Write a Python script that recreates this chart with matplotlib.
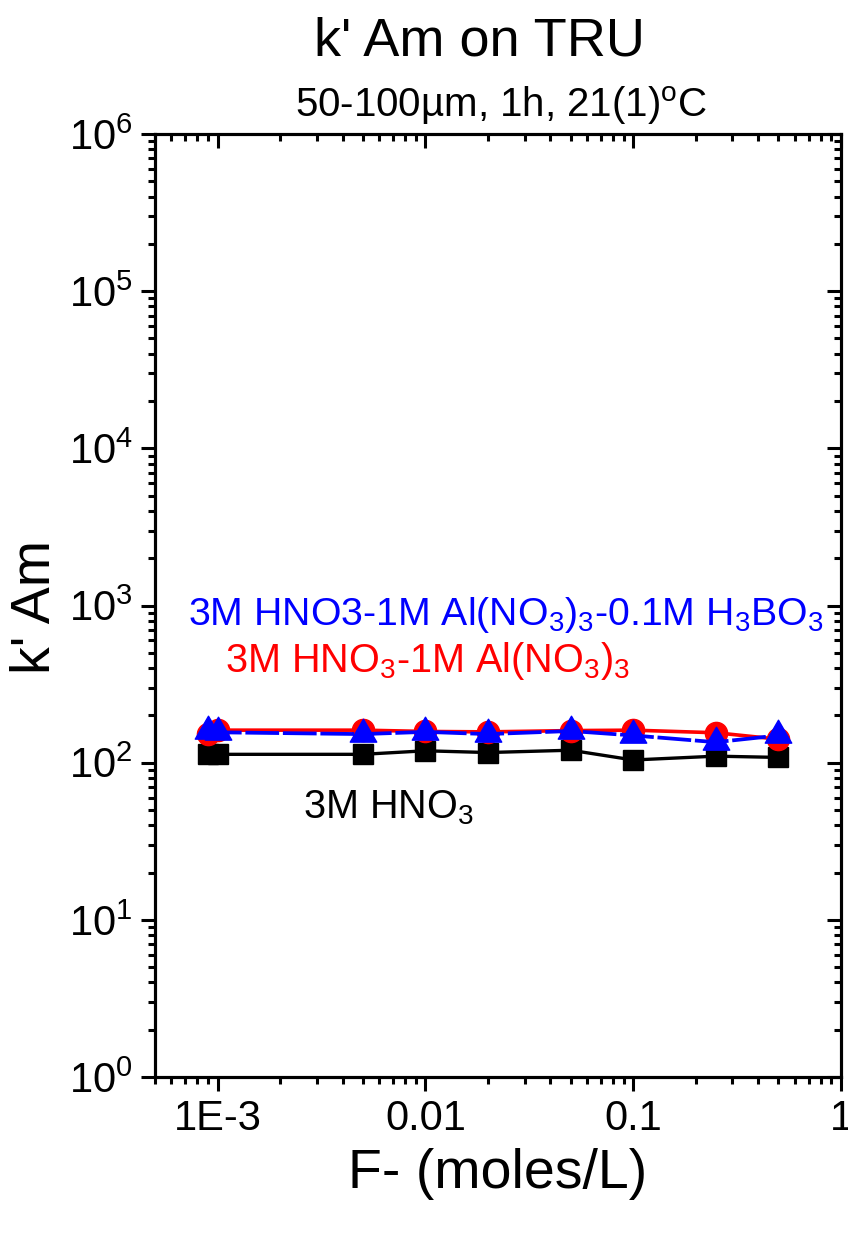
import matplotlib
matplotlib.use('Agg')
import matplotlib.pyplot as plt
from matplotlib.path import Path
from matplotlib.ticker import LogLocator, FixedLocator, FixedFormatter, NullFormatter

plt.rcParams['font.family'] = ['Liberation Sans', 'DejaVu Sans']
plt.rcParams['mathtext.fontset'] = 'custom'
plt.rcParams['mathtext.rm'] = 'Liberation Sans'
plt.rcParams['mathtext.it'] = 'Liberation Sans:italic'
plt.rcParams['mathtext.default'] = 'regular'

# F- concentration (moles/L)
fluoride = [0.0009, 0.001, 0.005, 0.01, 0.02, 0.05, 0.1, 0.25, 0.5]
# k' Am values
k_hno3 = [113, 113, 113, 119, 116, 120, 104, 110, 108]
k_hno3_al = [153, 161, 161, 158, 157, 160, 161, 155, 141]
k_hno3_al_b = [160, 156, 152, 157, 152, 159, 149, 135, 149]

x_ticks = [1e-3, 1e-2, 1e-1, 1]
x_tick_labels = ['1E-3', '0.01', '0.1', '1']

# triangle centred on its centroid, like Origin draws it
tri = Path([(0, 1), (-0.866, -0.5), (0.866, -0.5), (0, 1)],
           [Path.MOVETO, Path.LINETO, Path.LINETO, Path.CLOSEPOLY])

fig = plt.figure(figsize=(8.48, 12.33), dpi=100)
W, H = 848, 1233
ax = fig.add_axes([155 / W, 1 - 1077 / H, (841 - 155) / W, (1077 - 134) / H])

ax.plot(fluoride, k_hno3, color='black', lw=2.4, marker='s', ms=15,
        mec='black', zorder=3)
ax.plot(fluoride, k_hno3_al, color='#ff0000', lw=2.6, marker='o', ms=16,
        mec='#ff0000', zorder=4)
ax.plot(fluoride, k_hno3_al_b, color='#0000ff', lw=2.7, marker=tri, ms=22,
        mec='#0000ff', dashes=(9, 1), zorder=5)

ax.set_xscale('log')
ax.set_yscale('log')
ax.set_xlim(5e-4, 1)
ax.set_ylim(1, 1e6)

ax.xaxis.set_major_locator(FixedLocator(x_ticks))
ax.xaxis.set_major_formatter(FixedFormatter(x_tick_labels))
ax.xaxis.set_minor_locator(LogLocator(base=10, subs=range(2, 10), numticks=20))
ax.xaxis.set_minor_formatter(NullFormatter())
ax.yaxis.set_major_locator(LogLocator(base=10, numticks=20))
ax.yaxis.set_minor_locator(LogLocator(base=10, subs=range(2, 10), numticks=20))
ax.yaxis.set_minor_formatter(NullFormatter())

for s in ax.spines.values():
    s.set_linewidth(2.2)
ax.tick_params(which='major', direction='out', length=10, width=2.2,
               labelsize=30, pad=6, top=False, right=False)
ax.tick_params(which='minor', direction='out', length=5, width=2.2,
               top=False, right=False)

# top and right axes with ticks pointing in
ax_top = ax.twiny()
ax_top.set_xscale('log')
ax_top.set_xlim(ax.get_xlim())
ax_top.xaxis.set_major_locator(FixedLocator(x_ticks))
ax_top.xaxis.set_minor_locator(LogLocator(base=10, subs=range(2, 10), numticks=20))
ax_top.tick_params(which='both', direction='in', width=2.2, labeltop=False)
ax_top.tick_params(which='major', length=10)
ax_top.tick_params(which='minor', length=5)

ax_right = ax.twinx()
ax_right.set_yscale('log')
ax_right.set_ylim(ax.get_ylim())
ax_right.yaxis.set_major_locator(LogLocator(base=10, numticks=20))
ax_right.yaxis.set_minor_locator(LogLocator(base=10, subs=range(2, 10), numticks=20))
ax_right.tick_params(which='both', direction='in', width=2.2, labelright=False)
ax_right.tick_params(which='major', length=10)
ax_right.tick_params(which='minor', length=5)
for a in (ax_top, ax_right):
    for s in a.spines.values():
        s.set_linewidth(2.2)

ax.set_xlabel('F- (moles/L)', fontsize=40, va='top')
ax.xaxis.set_label_coords(0.5, -0.075)
fig.text(36 / W, 1 - 607 / H, "k' Am", fontsize=40, rotation=90,
         ha='center', va='center')

ax.text(7.2e-4, 750, r'3M HNO3-1M Al(NO$_3$)$_3$-0.1M H$_3$BO$_3$',
        color='#0000ff', fontsize=28.3, va='baseline', zorder=6)
ax.text(1.09e-3, 377, r'3M HNO$_3$-1M Al(NO$_3$)$_3$',
        color='#ff0000', fontsize=28.5, va='baseline', zorder=6)
ax.text(2.59e-3, 44.5, r'3M HNO$_3$',
        color='black', fontsize=28.5, va='baseline', zorder=6)

fig.text(479 / W, 1 - 55 / H, "k' Am on TRU", fontsize=39, ha='center', va='baseline')
fig.text(501 / W, 1 - 117 / H, '50-100\u00b5m, 1h, 21(1)$^{o}$C', fontsize=29,
         ha='center', va='baseline')

fig.savefig('out.png', dpi=100)
